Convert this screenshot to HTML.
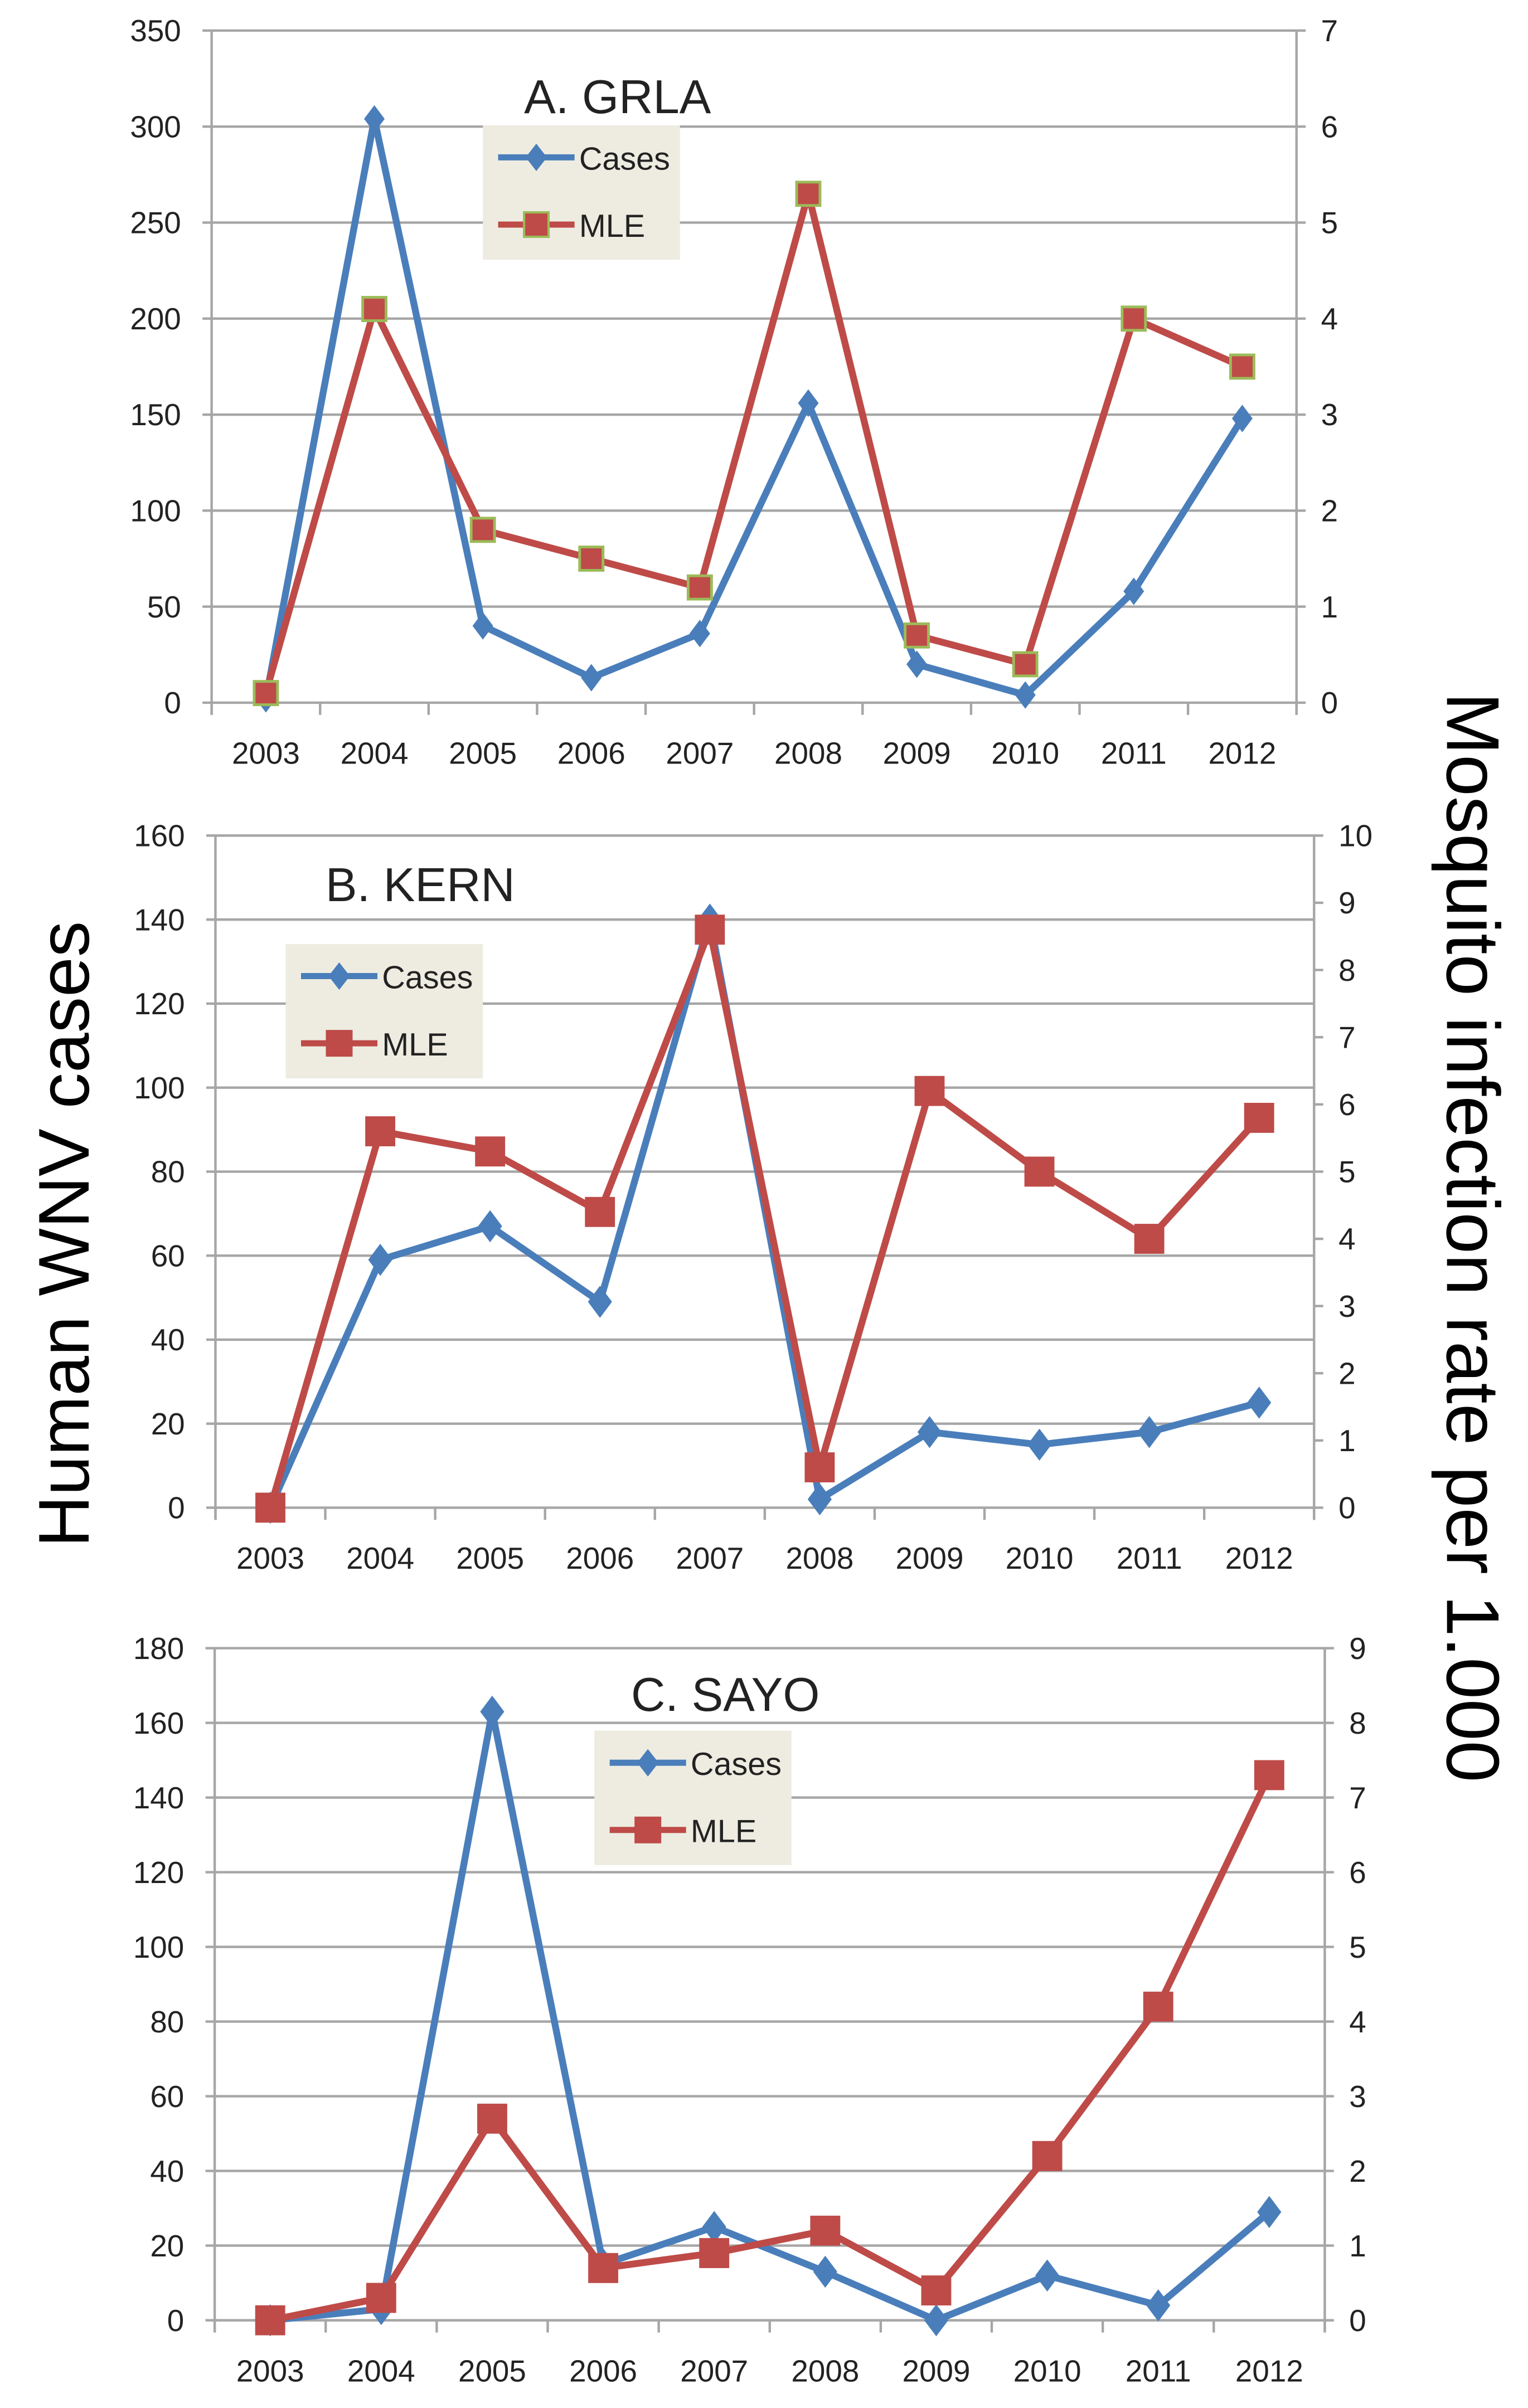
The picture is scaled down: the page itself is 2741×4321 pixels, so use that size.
<!DOCTYPE html>
<html><head><meta charset="utf-8"><style>
html,body{margin:0;padding:0;background:#fff}
svg{display:block}
text{font-family:"Liberation Sans Narrow","Liberation Sans",sans-serif;fill:#222}
</style></head><body>
<svg id="root" xmlns="http://www.w3.org/2000/svg" width="2741" height="4321" viewBox="0 0 1000 1576.4">
<rect width="1000" height="1576.4" fill="#fff"/>
<text transform="translate(58,808) rotate(-90)" text-anchor="middle" style="font-family:'Liberation Sans','DejaVu Sans',sans-serif;font-size:47px;fill:#000">Human WNV cases</text>
<text transform="translate(947,810) rotate(90)" text-anchor="middle" style="font-family:'Liberation Sans','DejaVu Sans',sans-serif;font-size:49px;fill:#000">Mosquito infection rate per 1.000</text>
</svg>
<script>
const years = ["2003","2004","2005","2006","2007","2008","2009","2010","2011","2012"];
const casesA = [2,304,40,13,36,156,20,4,58,148];
const mleA = [0.1,4.1,1.8,1.5,1.2,5.3,0.7,0.4,4.0,3.5];
const casesB = [0,59,67,49,140,2,18,15,18,25];
const mleB = [0,5.6,5.3,4.4,8.6,0.6,6.2,5.0,4.0,5.8];
const casesC = [0,3,163,15,25,13,0,12,4,29];
const mleC = [0,0.3,2.7,0.7,0.9,1.2,0.4,2.2,4.2,7.3];
const leftTicksA = [0,50,100,150,200,250,300,350];
const rightTicksA = [0,1,2,3,4,5,6,7];
const leftTicksB = [0,20,40,60,80,100,120,140,160];
const rightTicksB = [0,1,2,3,4,5,6,7,8,9,10];
const leftTicksC = [0,20,40,60,80,100,120,140,160,180];
const rightTicksC = [0,1,2,3,4,5,6,7,8,9];
const titles = ["A. GRLA","B. KERN","C. SAYO"];

const NS="http://www.w3.org/2000/svg";
const root=document.getElementById('root');
function mk(tag,attrs,parent){const e=document.createElementNS(NS,tag);for(const k in attrs)e.setAttribute(k,attrs[k]);(parent||root).appendChild(e);return e;}

function chart(id,cfg,cases,mle,lt,rt,title){
  const g=mk('g',{});
  
  
  const {x0,x1,yTop,yBot}=cfg;
  const lmax=lt[lt.length-1], rmax=rt[rt.length-1];
  const yL=v=>yBot-(v/lmax)*(yBot-yTop);
  const yR=v=>yBot-(v/rmax)*(yBot-yTop);
  const bw=(x1-x0)/years.length;
  const xs=i=>x0+bw*(i+0.5);
  lt.forEach(t=>{
    const l=mk('line',{x1:x0-6,x2:x1,y1:yL(t),y2:yL(t),stroke:'#a6a6a6','stroke-width':1.6},g);
    
    
    const tx=mk('text',{x:x0-20,y:yL(t)+7,'text-anchor':'end','font-size':20},g);
    tx.textContent=t;
    
    
  });
  rt.forEach(t=>{
    mk('line',{x1:x1,x2:x1+6,y1:yR(t),y2:yR(t),stroke:'#a6a6a6','stroke-width':1.6},g);
    const tx=mk('text',{x:x1+16,y:yR(t)+7,'text-anchor':'start','font-size':20},g);
    tx.textContent=t;
    
    
  });
  mk('line',{x1:x0,x2:x0,y1:yTop,y2:yBot+8,stroke:'#a6a6a6','stroke-width':1.6},g);
  mk('line',{x1:x1,x2:x1,y1:yTop,y2:yBot+8,stroke:'#a6a6a6','stroke-width':1.6},g);
  for(let i=0;i<=years.length;i++) mk('line',{x1:x0+bw*i,x2:x0+bw*i,y1:yBot,y2:yBot+8,stroke:'#a6a6a6','stroke-width':1.6},g);
  years.forEach((y,i)=>{
    const tx=mk('text',{x:xs(i),y:yBot+40,'text-anchor':'middle','font-size':20},g);
    tx.textContent=y;
    
    
  });
  const tt=mk('text',{x:cfg.tx,y:cfg.ty,'font-size':31},g);
  tt.textContent=title;
  
  
  const pc=mk('polyline',{points:cases.map((v,i)=>xs(i)+','+yL(v)).join(' '),fill:'none',stroke:'#4a7ebb','stroke-width':4.5,'stroke-linejoin':'round'},g);
  
  
  const pm=mk('polyline',{points:mle.map((v,i)=>xs(i)+','+yR(v)).join(' '),fill:'none',stroke:'#be4b48','stroke-width':4.5,'stroke-linejoin':'round'},g);
  
  
  const ms=cfg.ms;
  cases.forEach((v,i)=>{
    const x=xs(i),y=yL(v);
    const d=mk('polygon',{points:`${x},${y-ms} ${x+ms*0.75},${y} ${x},${y+ms} ${x-ms*0.75},${y}`,fill:'#4a7ebb'},g);
    
    
  });
  mle.forEach((v,i)=>{
    const x=xs(i),y=yR(v);
    const s=mk('rect',{x:x-ms*0.85,y:y-ms*0.85,width:ms*1.7,height:ms*1.7,fill:'#be4b48',stroke:cfg.mstroke,'stroke-width':1.8},g);
    
    
  });
  const lg=mk('g',{},g);
  
  
  mk('rect',{x:cfg.lx,y:cfg.ly,width:129,height:88,fill:'#eeece1'},lg);
  const e1=cfg.ly+21,e2=cfg.ly+65;
  mk('line',{x1:cfg.lx+10,x2:cfg.lx+60,y1:e1,y2:e1,stroke:'#4a7ebb','stroke-width':4},lg);
  mk('polygon',{points:`${cfg.lx+35},${e1-9} ${cfg.lx+42},${e1} ${cfg.lx+35},${e1+9} ${cfg.lx+28},${e1}`,fill:'#4a7ebb'},lg);
  const c=mk('text',{x:cfg.lx+63,y:e1+8,'font-size':21},lg);c.textContent='Cases';
  
  
  mk('line',{x1:cfg.lx+10,x2:cfg.lx+60,y1:e2,y2:e2,stroke:'#be4b48','stroke-width':4},lg);
  mk('rect',{x:cfg.lx+27,y:e2-8,width:16,height:16,fill:'#be4b48',stroke:cfg.mstroke,'stroke-width':1.5},lg);
  const m=mk('text',{x:cfg.lx+63,y:e2+8,'font-size':21},lg);m.textContent='MLE';
  
  
}
chart('a',{x0:138.5,x1:848.5,yTop:20,yBot:460,tx:343,ty:74,lx:316,ly:82,ms:9,mstroke:'#9bbb59'},casesA,mleA,leftTicksA,rightTicksA,titles[0]);
chart('b',{x0:141,x1:860,yTop:547,yBot:987,tx:213,ty:590,lx:187,ly:618,ms:10.5,mstroke:'#be4b48'},casesB,mleB,leftTicksB,rightTicksB,titles[1]);
chart('c',{x0:140.5,x1:867,yTop:1079,yBot:1519,tx:413,ty:1120,lx:389,ly:1133,ms:10.5,mstroke:'#be4b48'},casesC,mleC,leftTicksC,rightTicksC,titles[2]);
</script>
</body></html>
